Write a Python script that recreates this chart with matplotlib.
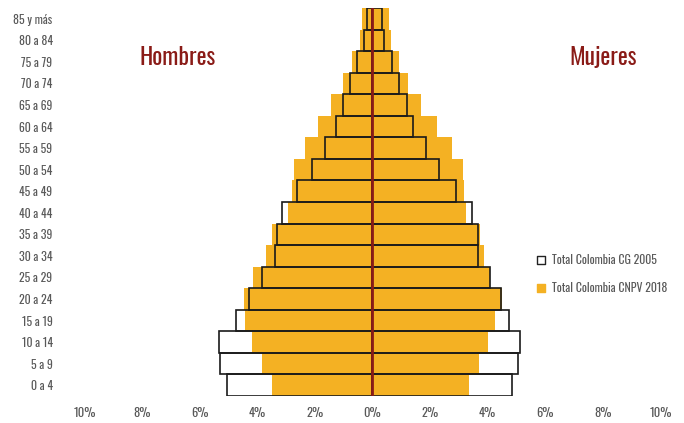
#!/usr/bin/env python
"""Piramide poblacional Colombia: CG 2005 vs CNPV 2018"""

import numpy as np
import matplotlib.pyplot as plt
from matplotlib import font_manager

age_groups = ['0 a 4', '5 a 9', '10 a 14', '15 a 19', '20 a 24', '25 a 29',
              '30 a 34', '35 a 39', '40 a 44', '45 a 49', '50 a 54', '55 a 59',
              '60 a 64', '65 a 69', '70 a 74', '75 a 79', '80 a 84', '85 y más']

# percentages of total population
men_2018 = [3.49, 3.83, 4.17, 4.44, 4.47, 4.14, 3.70, 3.49, 2.94, 2.81,
            2.73, 2.36, 1.88, 1.43, 1.01, 0.72, 0.45, 0.36]
women_2018 = [3.36, 3.69, 4.00, 4.26, 4.49, 4.08, 3.86, 3.73, 3.26, 3.18,
              3.15, 2.76, 2.24, 1.70, 1.24, 0.92, 0.65, 0.59]
men_2005 = [5.06, 5.29, 5.32, 4.75, 4.29, 3.82, 3.37, 3.33, 3.13, 2.61,
            2.10, 1.66, 1.25, 1.02, 0.77, 0.55, 0.29, 0.20]
women_2005 = [4.84, 5.06, 5.13, 4.73, 4.47, 4.09, 3.67, 3.68, 3.45, 2.90,
              2.32, 1.85, 1.40, 1.20, 0.93, 0.67, 0.39, 0.32]

ticks = [-10, -8, -6, -4, -2, 0, 2, 4, 6, 8, 10]

ORANGE = '#F4B123'
DARKRED = '#8A1B17'
GREY = '#595959'

# condensed face like the original; fall back to DejaVu Sans Condensed
try:
    font_manager.findfont(font_manager.FontProperties(family='Oswald'),
                          fallback_to_default=False)
    plt.rcParams['font.family'] = ['Oswald', 'DejaVu Sans']
except ValueError:
    plt.rcParams['font.family'] = ['DejaVu Sans']
    plt.rcParams['font.stretch'] = 'condensed'

fig = plt.figure(figsize=(6.84, 4.23), dpi=100)
ax = fig.add_axes([0.1235, 0.0638, 0.8421, 0.9172])

y = np.arange(len(age_groups))
ax.barh(y, -np.array(men_2018), height=1.0, color=ORANGE, lw=0)
ax.barh(y, women_2018, height=1.0, color=ORANGE, lw=0)
ax.barh(y, -np.array(men_2005), height=1.0, fill=False,
        edgecolor='#1a1a1a', lw=1.2)
ax.barh(y, women_2005, height=1.0, fill=False,
        edgecolor='#1a1a1a', lw=1.2)
ax.plot([0, 0], [-0.5, len(age_groups) - 0.5], color=DARKRED, lw=2)

ax.set_xlim(-10, 10)
ax.set_ylim(-0.5, len(age_groups) - 0.5)
ax.set_xticks(ticks)
ax.set_xticklabels(['%d%%' % abs(t) for t in ticks], fontsize=9, color=GREY)
ax.set_yticks(y)
ax.set_yticklabels(age_groups, fontsize=8.5, color=GREY)
ax.tick_params(axis='y', length=0, pad=23)
ax.tick_params(axis='x', length=0, pad=8)
for side in ax.spines.values():
    side.set_visible(False)

ax.text(-6.78, 15.2, 'Hombres', fontsize=17, color=DARKRED,
        ha='center', va='center')
ax.text(8.02, 15.2, 'Mujeres', fontsize=17, color=DARKRED,
        ha='center', va='center')

# legend
ax.scatter([5.84], [5.81], marker='s', s=36, facecolor='white',
           edgecolor='#222222', lw=1, clip_on=False)
ax.text(6.23, 5.81, 'Total Colombia CG 2005', fontsize=8.5, color=GREY,
        va='center')
ax.scatter([5.84], [4.51], marker='s', s=36, color=ORANGE, clip_on=False)
ax.text(6.23, 4.51, 'Total Colombia CNPV 2018', fontsize=8.5, color=GREY,
        va='center')

fig.savefig('out.png', dpi=100)
